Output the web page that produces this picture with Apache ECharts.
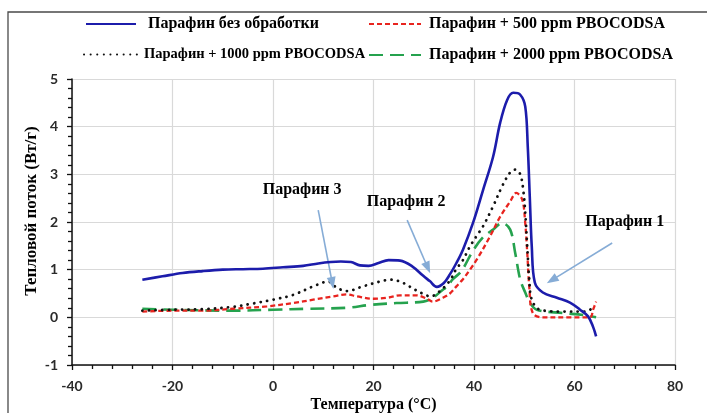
<!DOCTYPE html>
<html>
<head>
<meta charset="utf-8">
<script src="https://cdn.jsdelivr.net/npm/echarts@6/dist/echarts.min.js"></script>
<style>
  html, body { margin: 0; padding: 0; background: #fff; }
  #chart { width: 707px; height: 413px; }
</style>
</head>
<body>
<div id="chart"></div>
<script>
// DSC heat-flow curves of paraffin, untreated and with PBOCODSA additive
const seriesNames = [
  'Парафин без обработки',
  'Парафин + 500 ppm PBOCODSA',
  'Парафин + 1000 ppm PBOCODSA',
  'Парафин + 2000 ppm PBOCODSA'
];

// Untreated paraffin
const tempPure = [-26, -22, -18, -14, -10, -6, -2, 2, 6, 9, 11.5, 13.5, 15.5, 17.3, 19, 21, 23, 25.3, 27.7, 29.9, 31.2, 32.6, 34, 35.2, 36.5, 37.8, 39.8, 41.8, 43.8, 45.2, 46.6, 47.8, 49.2, 50.2, 50.7, 51.1, 51.5, 52.1, 53.7, 56.5, 59.1, 61.1, 62.7, 63.7, 64.3];
const flowPure = [0.79, 0.86, 0.93, 0.97, 1.0, 1.01, 1.02, 1.05, 1.08, 1.13, 1.16, 1.17, 1.16, 1.09, 1.08, 1.14, 1.2, 1.19, 1.07, 0.87, 0.76, 0.64, 0.72, 0.9, 1.14, 1.42, 1.98, 2.67, 3.37, 4.08, 4.56, 4.71, 4.67, 4.42, 3.58, 2.53, 1.48, 0.73, 0.52, 0.41, 0.31, 0.16, 0.02, -0.2, -0.4];

// + 500 ppm
const temp500 = [-26, -20, -14, -8, -1.2, 4, 8, 12, 14.7, 16.7, 20, 22.7, 25.3, 28.6, 30.6, 31.8, 33.8, 35.2, 36.5, 37.8, 39.2, 40.6, 43.2, 45.2, 47.2, 48.4, 49.6, 50.2, 50.6, 51, 51.7, 53.7, 59.1, 63.1, 63.7, 64.3];
const flow500 = [0.12, 0.14, 0.14, 0.18, 0.23, 0.3, 0.37, 0.44, 0.48, 0.44, 0.39, 0.41, 0.46, 0.46, 0.39, 0.33, 0.41, 0.5, 0.65, 0.8, 1.0, 1.22, 1.7, 2.11, 2.43, 2.61, 2.47, 1.97, 1.35, 0.64, 0.09, 0.0, 0.0, 0.0, 0.16, 0.33];

// + 1000 ppm
const temp1000 = [-26, -20, -14, -8, -4, 0, 4, 8, 11, 12.7, 14.7, 17.9, 21.3, 23.3, 25.3, 27.3, 29.3, 31.4, 33.2, 35.2, 36.4, 37.8, 39, 40.6, 41.8, 43.8, 45.6, 47.2, 48.2, 49.2, 49.8, 50.2, 50.6, 51, 51.5, 53.1, 57.7, 61.7, 63.1, 63.9];
const flow1000 = [0.14, 0.16, 0.17, 0.22, 0.29, 0.37, 0.47, 0.65, 0.75, 0.62, 0.55, 0.65, 0.75, 0.79, 0.75, 0.64, 0.52, 0.44, 0.55, 0.77, 1.0, 1.2, 1.45, 1.72, 1.91, 2.33, 2.75, 3.04, 3.1, 3.0, 2.67, 2.19, 1.48, 0.79, 0.37, 0.16, 0.12, 0.12, 0.16, 0.26];

// + 2000 ppm
const temp2000 = [-26, -20, -8, 0, 6.8, 14.7, 19.3, 24.6, 29.9, 31.8, 33.8, 34.6, 35.8, 37.5, 39.8, 41.8, 43.8, 45.6, 47.2, 48.2, 49.2, 50.2, 51.1, 52.5, 57.7, 61.7, 64.3];
const flow2000 = [0.18, 0.16, 0.14, 0.16, 0.18, 0.2, 0.26, 0.3, 0.33, 0.41, 0.58, 0.64, 0.8, 0.97, 1.4, 1.68, 1.84, 1.98, 1.84, 1.35, 0.79, 0.52, 0.31, 0.16, 0.09, 0.05, 0.0];

// Peak callouts: label text, label position, arrow start, arrow tip
const calloutText  = ['Парафин 3', 'Парафин 2', 'Парафин 1'];
const calloutLabel = [[5.8, 2.67], [26.5, 2.42], [70.0, 2.0]];
const calloutFrom  = [[9.0, 2.25], [26.7, 2.04], [67.5, 1.56]];
const calloutTo    = [[11.8, 0.72], [30.8, 1.04], [55.5, 0.78]];

const zip = (xs, ys) => xs.map((x, i) => [x, ys[i]]);

const serifBold = { fontFamily: 'Liberation Serif', fontWeight: 'bold', color: '#000' };

const chart = echarts.init(document.getElementById('chart'), null, { renderer: 'canvas' });

// One legend block per entry so each sits at its own spot in the two-row key
const legendBase = {
  orient: 'horizontal',
  padding: 0,
  itemHeight: 14,
  selectedMode: false,
  itemStyle: { opacity: 0 }
};
const legendText = (size, padLeft) => Object.assign({ fontSize: size, padding: [0, 0, 0, padLeft] }, serifBold);

chart.setOption({
  animation: false,
  backgroundColor: '#fff',
  graphic: [{
    type: 'rect',
    shape: { x: 8, y: 12, width: 760, height: 460 },
    style: { fill: 'none', stroke: '#4a4a4a', lineWidth: 1.3 },
    silent: true,
    z: -1
  }],
  legend: [
    Object.assign({}, legendBase, { data: [seriesNames[0]], left: 85, top: 16, itemWidth: 50, textStyle: legendText(16, 7) }),
    Object.assign({}, legendBase, { data: [seriesNames[1]], left: 368, top: 16, itemWidth: 52, textStyle: legendText(16, 3) }),
    Object.assign({}, legendBase, { data: [seriesNames[2]], left: 83, top: 47, itemWidth: 55, textStyle: legendText(14.5, 0) }),
    Object.assign({}, legendBase, { data: [seriesNames[3]], left: 368, top: 47, itemWidth: 52, textStyle: legendText(16, 3) })
  ],
  grid: { left: 72, right: 32, top: 79, bottom: 48, containLabel: false, outerBoundsMode: 'none' },
  xAxis: {
    type: 'value',
    min: -40, max: 80, interval: 20,
    name: 'Температура (°C)',
    nameLocation: 'middle',
    nameGap: 32,
    nameMoveOverlap: false,
    nameTextStyle: Object.assign({ fontSize: 16 }, serifBold),
    axisLine: { onZero: false, lineStyle: { color: '#111', width: 1.5 } },
    axisTick: { show: true, length: 5, lineStyle: { color: '#111', width: 1.3 } },
    minorTick: { show: true, splitNumber: 5, length: 4, lineStyle: { color: '#111', width: 1.3 } },
    axisLabel: { margin: 14, fontFamily: 'Lato', fontWeight: 'bold', fontSize: 14, color: '#2a2a2a' },
    splitLine: { show: true, lineStyle: { color: '#d9d9d9', width: 1.2 } }
  },
  yAxis: {
    type: 'value',
    min: -1, max: 5, interval: 1,
    name: 'Тепловой поток (Вт/г)',
    nameLocation: 'middle',
    nameGap: 32,
    nameMoveOverlap: false,
    nameTextStyle: Object.assign({ fontSize: 17, padding: [0, 0, 0, 22] }, serifBold),
    axisLine: { show: true, onZero: false, lineStyle: { color: '#111', width: 1.5 } },
    axisTick: { show: true, length: 5, lineStyle: { color: '#111', width: 1.3 } },
    minorTick: { show: true, splitNumber: 5, length: 4, lineStyle: { color: '#111', width: 1.3 } },
    axisLabel: { margin: 14, fontFamily: 'Lato', fontWeight: 'bold', fontSize: 14, color: '#2a2a2a' },
    splitLine: { show: true, lineStyle: { color: '#d9d9d9', width: 1.2 } }
  },
  series: [
    {
      name: seriesNames[3], type: 'line', data: zip(temp2000, flow2000),
      symbol: 'none', smooth: 0.35, z: 2,
      color: '#25a24e',
      lineStyle: { color: '#25a24e', width: 2.6, type: [14, 7] },
      markLine: {
        silent: true,
        symbol: ['none', 'triangle'],
        symbolSize: [9, 12],
        label: { show: false },
        lineStyle: { color: '#86acd6', width: 1.6, type: 'solid' },
        itemStyle: { color: '#86acd6' },
        data: calloutFrom.map((p, i) => [{ coord: p }, { coord: calloutTo[i] }])
      },
      markPoint: {
        silent: true,
        symbol: 'rect',
        symbolSize: 1,
        itemStyle: { color: 'rgba(0,0,0,0)' },
        label: Object.assign({ show: true, position: 'inside', fontSize: 16, formatter: p => p.name }, serifBold),
        data: calloutText.map((t, i) => ({ name: t, coord: calloutLabel[i] }))
      }
    },
    {
      name: seriesNames[1], type: 'line', data: zip(temp500, flow500),
      symbol: 'none', smooth: 0.35, z: 3,
      color: '#e8241f',
      lineStyle: { color: '#e8241f', width: 2.3, type: [5, 3] }
    },
    {
      name: seriesNames[2], type: 'line', data: zip(temp1000, flow1000),
      symbol: 'none', smooth: 0.35, z: 4,
      color: '#111',
      lineStyle: { color: '#111', width: 2.8, type: [0.1, 6.5], cap: 'round' }
    },
    {
      name: seriesNames[0], type: 'line', data: zip(tempPure, flowPure),
      symbol: 'none', smooth: 0.35, z: 5,
      color: '#1c1cab',
      lineStyle: { color: '#1c1cab', width: 2.6 }
    }
  ]
});
</script>
</body>
</html>
